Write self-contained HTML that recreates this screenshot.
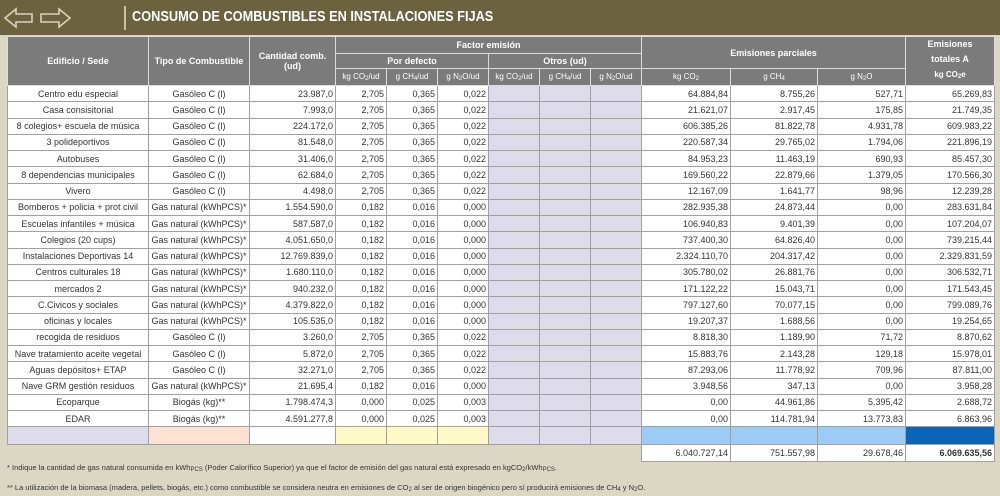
<!DOCTYPE html>
<html><head><meta charset="utf-8"><style>
body{margin:0;width:1000px;height:496px;overflow:hidden;background:#dcd7c3;font-family:"Liberation Sans",sans-serif;position:relative}
.top{position:absolute;left:0;top:0;width:1000px;height:35px;background:#6b6240}
.title{position:absolute;left:132px;top:9px;color:#fff;font-size:14.5px;font-weight:bold;transform:scaleX(.88);transform-origin:left}
.bar{position:absolute;left:124px;top:6px;width:2px;height:24px;background:#c9c2a8}
table{position:absolute;left:7px;top:36px;border-collapse:collapse;table-layout:fixed;font-size:9px;color:#333}
td,th{padding:0 2px;overflow:hidden;white-space:nowrap;border:1px solid #a0a0a0}
th{background:#7b7b7b;color:#fff;font-weight:bold;border:1px solid #ddd;font-size:9px}
th.s{font-weight:normal;font-size:8px}
tr.h1{height:17px}tr.h2{height:15px}tr.h3{height:17px}
tr.d{height:16.25px}
tr.d td{background:#fff}
td.c{text-align:center}td.r{text-align:right}
tr.d td.o{background:#dedbea}
sub{font-size:6px;vertical-align:-1px}
.foot{position:absolute;left:7px;font-size:7.5px;color:#333}
</style></head><body>
<div class="top"></div>
<svg style="position:absolute;left:2px;top:6px" width="72" height="24"><path d="M3 12 L14 3 L14 8 L30 8 L30 16 L14 16 L14 21 Z" fill="none" stroke="#d8d2ba" stroke-width="1.6"/><path d="M68 12 L57 3 L57 8 L39 8 L39 16 L57 16 L57 21 Z" fill="none" stroke="#d8d2ba" stroke-width="1.6"/></svg>
<div class="bar"></div>
<div class="title">CONSUMO DE COMBUSTIBLES EN INSTALACIONES FIJAS</div>
<table>
<colgroup><col style="width:141px"><col style="width:101px"><col style="width:86px"><col style="width:51px"><col style="width:51px"><col style="width:51px"><col style="width:51px"><col style="width:51px"><col style="width:51px"><col style="width:89px"><col style="width:87px"><col style="width:88px"><col style="width:89px"></colgroup>
<tr class="h1"><th rowspan="3">Edificio / Sede</th><th rowspan="3">Tipo de Combustible</th><th rowspan="3">Cantidad comb.<br>(ud)</th><th colspan="6">Factor emisión</th><th colspan="3" rowspan="2">Emisiones parciales</th><th rowspan="3" style="line-height:15px">Emisiones<br>totales A<br><span style="font-size:8px">kg CO<sub>2</sub>e</span></th></tr>
<tr class="h2"><th colspan="3">Por defecto</th><th colspan="3">Otros (ud)</th></tr>
<tr class="h3"><th class="s">kg CO<sub>2</sub>/ud</th><th class="s">g CH<sub>4</sub>/ud</th><th class="s">g N<sub>2</sub>O/ud</th><th class="s">kg CO<sub>2</sub>/ud</th><th class="s">g CH<sub>4</sub>/ud</th><th class="s">g N<sub>2</sub>O/ud</th><th class="s">kg CO<sub>2</sub></th><th class="s">g CH<sub>4</sub></th><th class="s">g N<sub>2</sub>O</th></tr>
<tr class="d"><td class="c">Centro edu especial</td><td class="c">Gasóleo C (l)</td><td class="r">23.987,0</td><td class="r">2,705</td><td class="r">0,365</td><td class="r">0,022</td><td class="o"></td><td class="o"></td><td class="o"></td><td class="r">64.884,84</td><td class="r">8.755,26</td><td class="r">527,71</td><td class="r">65.269,83</td></tr>
<tr class="d"><td class="c">Casa consisitorial</td><td class="c">Gasóleo C (l)</td><td class="r">7.993,0</td><td class="r">2,705</td><td class="r">0,365</td><td class="r">0,022</td><td class="o"></td><td class="o"></td><td class="o"></td><td class="r">21.621,07</td><td class="r">2.917,45</td><td class="r">175,85</td><td class="r">21.749,35</td></tr>
<tr class="d"><td class="c">8 colegios+ escuela de música</td><td class="c">Gasóleo C (l)</td><td class="r">224.172,0</td><td class="r">2,705</td><td class="r">0,365</td><td class="r">0,022</td><td class="o"></td><td class="o"></td><td class="o"></td><td class="r">606.385,26</td><td class="r">81.822,78</td><td class="r">4.931,78</td><td class="r">609.983,22</td></tr>
<tr class="d"><td class="c">3 polideportivos</td><td class="c">Gasóleo C (l)</td><td class="r">81.548,0</td><td class="r">2,705</td><td class="r">0,365</td><td class="r">0,022</td><td class="o"></td><td class="o"></td><td class="o"></td><td class="r">220.587,34</td><td class="r">29.765,02</td><td class="r">1.794,06</td><td class="r">221.896,19</td></tr>
<tr class="d"><td class="c">Autobuses</td><td class="c">Gasóleo C (l)</td><td class="r">31.406,0</td><td class="r">2,705</td><td class="r">0,365</td><td class="r">0,022</td><td class="o"></td><td class="o"></td><td class="o"></td><td class="r">84.953,23</td><td class="r">11.463,19</td><td class="r">690,93</td><td class="r">85.457,30</td></tr>
<tr class="d"><td class="c">8 dependencias municipales</td><td class="c">Gasóleo C (l)</td><td class="r">62.684,0</td><td class="r">2,705</td><td class="r">0,365</td><td class="r">0,022</td><td class="o"></td><td class="o"></td><td class="o"></td><td class="r">169.560,22</td><td class="r">22.879,66</td><td class="r">1.379,05</td><td class="r">170.566,30</td></tr>
<tr class="d"><td class="c">Vivero</td><td class="c">Gasóleo C (l)</td><td class="r">4.498,0</td><td class="r">2,705</td><td class="r">0,365</td><td class="r">0,022</td><td class="o"></td><td class="o"></td><td class="o"></td><td class="r">12.167,09</td><td class="r">1.641,77</td><td class="r">98,96</td><td class="r">12.239,28</td></tr>
<tr class="d"><td class="c">Bomberos + policia + prot civil</td><td class="c">Gas natural (kWhPCS)*</td><td class="r">1.554.590,0</td><td class="r">0,182</td><td class="r">0,016</td><td class="r">0,000</td><td class="o"></td><td class="o"></td><td class="o"></td><td class="r">282.935,38</td><td class="r">24.873,44</td><td class="r">0,00</td><td class="r">283.631,84</td></tr>
<tr class="d"><td class="c">Escuelas infantiles + música</td><td class="c">Gas natural (kWhPCS)*</td><td class="r">587.587,0</td><td class="r">0,182</td><td class="r">0,016</td><td class="r">0,000</td><td class="o"></td><td class="o"></td><td class="o"></td><td class="r">106.940,83</td><td class="r">9.401,39</td><td class="r">0,00</td><td class="r">107.204,07</td></tr>
<tr class="d"><td class="c">Colegios (20 cups)</td><td class="c">Gas natural (kWhPCS)*</td><td class="r">4.051.650,0</td><td class="r">0,182</td><td class="r">0,016</td><td class="r">0,000</td><td class="o"></td><td class="o"></td><td class="o"></td><td class="r">737.400,30</td><td class="r">64.826,40</td><td class="r">0,00</td><td class="r">739.215,44</td></tr>
<tr class="d"><td class="c">Instalaciones Deportivas 14</td><td class="c">Gas natural (kWhPCS)*</td><td class="r">12.769.839,0</td><td class="r">0,182</td><td class="r">0,016</td><td class="r">0,000</td><td class="o"></td><td class="o"></td><td class="o"></td><td class="r">2.324.110,70</td><td class="r">204.317,42</td><td class="r">0,00</td><td class="r">2.329.831,59</td></tr>
<tr class="d"><td class="c">Centros culturales 18</td><td class="c">Gas natural (kWhPCS)*</td><td class="r">1.680.110,0</td><td class="r">0,182</td><td class="r">0,016</td><td class="r">0,000</td><td class="o"></td><td class="o"></td><td class="o"></td><td class="r">305.780,02</td><td class="r">26.881,76</td><td class="r">0,00</td><td class="r">306.532,71</td></tr>
<tr class="d"><td class="c">mercados 2</td><td class="c">Gas natural (kWhPCS)*</td><td class="r">940.232,0</td><td class="r">0,182</td><td class="r">0,016</td><td class="r">0,000</td><td class="o"></td><td class="o"></td><td class="o"></td><td class="r">171.122,22</td><td class="r">15.043,71</td><td class="r">0,00</td><td class="r">171.543,45</td></tr>
<tr class="d"><td class="c">C.Civicos y sociales</td><td class="c">Gas natural (kWhPCS)*</td><td class="r">4.379.822,0</td><td class="r">0,182</td><td class="r">0,016</td><td class="r">0,000</td><td class="o"></td><td class="o"></td><td class="o"></td><td class="r">797.127,60</td><td class="r">70.077,15</td><td class="r">0,00</td><td class="r">799.089,76</td></tr>
<tr class="d"><td class="c">oficinas y locales</td><td class="c">Gas natural (kWhPCS)*</td><td class="r">105.535,0</td><td class="r">0,182</td><td class="r">0,016</td><td class="r">0,000</td><td class="o"></td><td class="o"></td><td class="o"></td><td class="r">19.207,37</td><td class="r">1.688,56</td><td class="r">0,00</td><td class="r">19.254,65</td></tr>
<tr class="d"><td class="c">recogida de residuos</td><td class="c">Gasóleo C (l)</td><td class="r">3.260,0</td><td class="r">2,705</td><td class="r">0,365</td><td class="r">0,022</td><td class="o"></td><td class="o"></td><td class="o"></td><td class="r">8.818,30</td><td class="r">1.189,90</td><td class="r">71,72</td><td class="r">8.870,62</td></tr>
<tr class="d"><td class="c">Nave tratamiento aceite vegetal</td><td class="c">Gasóleo C (l)</td><td class="r">5.872,0</td><td class="r">2,705</td><td class="r">0,365</td><td class="r">0,022</td><td class="o"></td><td class="o"></td><td class="o"></td><td class="r">15.883,76</td><td class="r">2.143,28</td><td class="r">129,18</td><td class="r">15.978,01</td></tr>
<tr class="d"><td class="c">Aguas depósitos+ ETAP</td><td class="c">Gasóleo C (l)</td><td class="r">32.271,0</td><td class="r">2,705</td><td class="r">0,365</td><td class="r">0,022</td><td class="o"></td><td class="o"></td><td class="o"></td><td class="r">87.293,06</td><td class="r">11.778,92</td><td class="r">709,96</td><td class="r">87.811,00</td></tr>
<tr class="d"><td class="c">Nave GRM gestión residuos</td><td class="c">Gas natural (kWhPCS)*</td><td class="r">21.695,4</td><td class="r">0,182</td><td class="r">0,016</td><td class="r">0,000</td><td class="o"></td><td class="o"></td><td class="o"></td><td class="r">3.948,56</td><td class="r">347,13</td><td class="r">0,00</td><td class="r">3.958,28</td></tr>
<tr class="d"><td class="c">Ecoparque</td><td class="c">Biogás (kg)**</td><td class="r">1.798.474,3</td><td class="r">0,000</td><td class="r">0,025</td><td class="r">0,003</td><td class="o"></td><td class="o"></td><td class="o"></td><td class="r">0,00</td><td class="r">44.961,86</td><td class="r">5.395,42</td><td class="r">2.688,72</td></tr>
<tr class="d"><td class="c">EDAR</td><td class="c">Biogás (kg)**</td><td class="r">4.591.277,8</td><td class="r">0,000</td><td class="r">0,025</td><td class="r">0,003</td><td class="o"></td><td class="o"></td><td class="o"></td><td class="r">0,00</td><td class="r">114.781,94</td><td class="r">13.773,83</td><td class="r">6.863,96</td></tr>
<tr style="height:18px"><td style="background:#dedbea"></td><td style="background:#fbe2d2"></td><td style="background:#fff"></td><td style="background:#fff9c8"></td><td style="background:#fff9c8"></td><td style="background:#fff9c8"></td><td style="background:#dedbea"></td><td style="background:#dedbea"></td><td style="background:#dedbea"></td><td style="background:#9ccbf6"></td><td style="background:#9ccbf6"></td><td style="background:#9ccbf6"></td><td style="background:#0a64b8"></td></tr>
<tr style="height:17px"><td colspan="9" style="border:none;background:transparent"></td><td class="r" style="background:#fff">6.040.727,14</td><td class="r" style="background:#fff">751.557,98</td><td class="r" style="background:#fff">29.678,46</td><td class="r" style="background:#fff;font-weight:bold">6.069.635,56</td></tr>
</table>
<div class="foot" style="top:463px">* Indique la cantidad de gas natural consumida en kWh<sub>PCS</sub> (Poder Calorífico Superior) ya que el factor de emisión del gas natural está expresado en kgCO<sub>2</sub>/kWh<sub>PCS</sub>.</div>
<div class="foot" style="top:483px">** La utilización de la biomasa (madera, pellets, biogás, etc.) como combustible se considera neutra en emisiones de CO<sub>2</sub> al ser de origen biogénico pero sí producirá emisiones de CH<sub>4</sub> y N<sub>2</sub>O.</div>
</body></html>
